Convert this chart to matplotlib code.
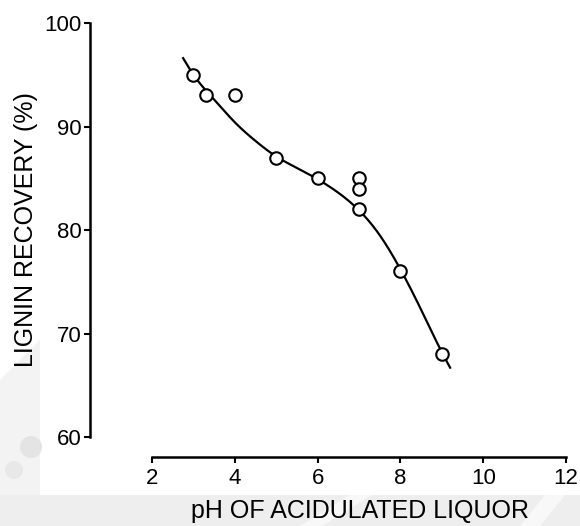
import numpy as np
import matplotlib
matplotlib.use("Agg")
import matplotlib.pyplot as plt
from matplotlib.patches import Circle, Rectangle, Polygon

# measured points: pH vs lignin recovery
ph = [3.0, 3.3, 4.0, 5.0, 6.0, 7.0, 7.0, 7.0, 8.0, 9.0]
recovery = [95, 93, 93, 87, 85, 85, 84, 82, 76, 68]

# hand-drawn trend line
curve_ph = [2.75, 3.0, 3.5, 4.0, 4.5, 5.0, 5.5, 6.0, 6.5, 7.0, 7.5, 8.0, 8.5, 9.0, 9.2]
curve_rec = [96.6, 95.0, 92.6, 90.4, 88.6, 87.1, 86.0, 84.9, 83.6, 81.9, 79.5, 76.2, 72.3, 68.2, 66.7]

xticks = [2, 4, 6, 8, 10, 12]
yticks = [60, 70, 80, 90, 100]


def natural_spline(x, y, xs):
    # plain natural cubic spline through the curve knots
    x = np.asarray(x, float)
    y = np.asarray(y, float)
    n = len(x)
    h = np.diff(x)
    A = np.zeros((n, n))
    r = np.zeros(n)
    A[0, 0] = A[-1, -1] = 1
    for i in range(1, n - 1):
        A[i, i - 1] = h[i - 1]
        A[i, i] = 2 * (h[i - 1] + h[i])
        A[i, i + 1] = h[i]
        r[i] = 3 * ((y[i + 1] - y[i]) / h[i] - (y[i] - y[i - 1]) / h[i - 1])
    c = np.linalg.solve(A, r)
    b = (y[1:] - y[:-1]) / h - h * (2 * c[:-1] + c[1:]) / 3
    d = (c[1:] - c[:-1]) / (3 * h)
    k = np.clip(np.searchsorted(x, xs) - 1, 0, n - 2)
    t = xs - x[k]
    return y[k] + b[k] * t + c[k] * t**2 + d[k] * t**3


plt.rcParams['font.family'] = ['Liberation Sans', 'DejaVu Sans']

W, H = 580, 526
fig = plt.figure(figsize=(W / 100, H / 100), dpi=100)

# faint scan watermark behind the figure
bg = fig.add_axes([0, 0, 1, 1], zorder=-1)
bg.set_xlim(0, W)
bg.set_ylim(H, 0)
bg.axis('off')
bg.add_patch(Rectangle((0, 495), W, H - 495, color='#eeeeee', lw=0))
bg.add_patch(Polygon([(0, 380), (40, 340), (40, 495), (0, 495)], closed=True,
                     color='#f3f3f3', lw=0))
bg.add_patch(Circle((31, 447), 11, color='#e4e4e4', lw=0))
bg.add_patch(Circle((14, 470), 9, color='#e8e8e8', lw=0))
bg.add_patch(Polygon([(300, 526), (350, 495), (372, 495), (322, 526)], closed=True,
                     color='#f8f8f8', lw=0))
bg.add_patch(Polygon([(520, 526), (545, 495), (565, 495), (540, 526)], closed=True,
                     color='#f8f8f8', lw=0))

ax = fig.add_axes([90 / W, 69 / H, 476 / W, 434 / H])
ax.patch.set_alpha(0)

xs = np.linspace(curve_ph[0], curve_ph[-1], 200)
ax.plot(xs, natural_spline(curve_ph, curve_rec, xs), color='black', lw=1.6, zorder=2)
ax.plot(ph, recovery, 'o', ms=9, mfc='white', mec='black', mew=1.5, zorder=3)

ax.set_xlim(0.5, 12)
ax.set_ylim(58.07, 100)
for s in ['top', 'right']:
    ax.spines[s].set_visible(False)
ax.spines['left'].set_bounds(60, 100)
ax.spines['bottom'].set_bounds(2, 12)
ax.spines['left'].set_linewidth(1.8)
ax.spines['bottom'].set_linewidth(1.8)

ax.set_xticks(xticks)
ax.set_yticks(yticks)
ax.tick_params(direction='out', length=4, width=1.5, labelsize=16, pad=2)
ax.tick_params(axis='x', pad=4)
ax.set_xticklabels([str(t) for t in xticks])
ax.set_yticklabels([str(t) for t in yticks])

ax.set_xlabel('pH OF ACIDULATED LIQUOR', fontsize=18)
ax.set_ylabel('LIGNIN RECOVERY (%)', fontsize=18)
ax.xaxis.set_label_coords((360 - 90) / 476, (457 - 499) / 434)
ax.yaxis.set_label_coords((38 - 90) / 476, (457 - 230) / 434)

fig.savefig('out.png', dpi=100)
